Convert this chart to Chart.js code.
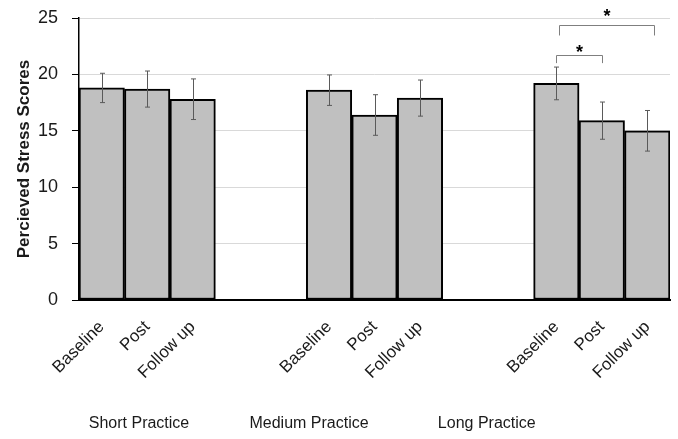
<!DOCTYPE html>
<html>
<head>
<meta charset="utf-8">
<script src="https://cdn.jsdelivr.net/npm/chart.js@4.4.1/dist/chart.umd.min.js"></script>
<style>
  html, body { margin: 0; padding: 0; background: #fff; }
  #wrap { width: 678px; height: 439px; }
</style>
</head>
<body>
<div id="wrap"><canvas id="chart" width="678" height="439"></canvas></div>
<script>
const timepoints = ['Baseline', 'Post', 'Follow up'];
const groups = ['Short Practice', 'Medium Practice', 'Long Practice'];
const shortMeans = [18.8, 18.7, 17.8];
const mediumMeans = [18.6, 16.4, 17.9];
const longMeans = [19.2, 15.9, 15.0];
const shortErr = [1.3, 1.6, 1.8];
const mediumErr = [1.35, 1.8, 1.6];
const longErr = [1.45, 1.65, 1.8];
const yTicks = [0, 5, 10, 15, 20, 25];

// significance brackets within the Long Practice group (timepoint index from/to)
const brackets = [
    { from: 0, to: 1, level: 21.7, drop: 0.7, starGap: 5 },
    { from: 0.06, to: 2.15, level: 24.35, drop: 0.9, starGap: 11 }
];
// where the group captions sit along the category axis
const groupLabelAt = [0.82, 4.56, 8.47];

const GAP = 2; // empty slots between groups
const allMeans = [shortMeans, mediumMeans, longMeans];
const allErr = [shortErr, mediumErr, longErr];
const labels = [];
const values = [];
const errors = [];
allMeans.forEach((means, g) => {
    if (g > 0) {
        for (let k = 0; k < GAP; k++) { labels.push(''); values.push(null); errors.push(null); }
    }
    means.forEach((m, i) => {
        labels.push(timepoints[i]);
        values.push(m);
        errors.push(allErr[g][i]);
    });
});
const longStart = 2 * (timepoints.length + GAP);

const textColor = '#1a1a1a';
const font = "'Liberation Sans', Arial, sans-serif";

const errorBars = {
    id: 'errorBars',
    afterDatasetsDraw(chart) {
        const ctx = chart.ctx;
        const y = chart.scales.y;
        const meta = chart.getDatasetMeta(0);
        ctx.save();
        ctx.strokeStyle = '#5a5a5a';
        ctx.lineWidth = 1;
        meta.data.forEach((bar, i) => {
            if (values[i] == null) return;
            const x = Math.round(bar.x) + 0.5;
            const top = y.getPixelForValue(values[i] + errors[i]);
            const bot = y.getPixelForValue(values[i] - errors[i]);
            ctx.beginPath();
            ctx.moveTo(x, top); ctx.lineTo(x, bot);
            ctx.moveTo(x - 2.5, top); ctx.lineTo(x + 2.5, top);
            ctx.moveTo(x - 2.5, bot); ctx.lineTo(x + 2.5, bot);
            ctx.stroke();
        });
        ctx.restore();
    }
};

const annotations = {
    id: 'annotations',
    afterDraw(chart) {
        const ctx = chart.ctx;
        const xs = chart.scales.x;
        const ys = chart.scales.y;
        ctx.save();
        // brackets
        brackets.forEach(b => {
            const x1 = Math.round(xs.getPixelForValue(longStart + b.from)) + 0.5;
            const x2 = Math.round(xs.getPixelForValue(longStart + b.to)) + 0.5;
            const yt = Math.round(ys.getPixelForValue(b.level)) + 0.5;
            const yb = ys.getPixelForValue(b.level - b.drop);
            ctx.strokeStyle = '#7f7f7f';
            ctx.lineWidth = 1;
            ctx.beginPath();
            ctx.moveTo(x1, yb); ctx.lineTo(x1, yt); ctx.lineTo(x2, yt); ctx.lineTo(x2, yb);
            ctx.stroke();
            ctx.fillStyle = '#000';
            ctx.font = 'bold 18px ' + font;
            ctx.textAlign = 'center';
            ctx.textBaseline = 'alphabetic';
            ctx.fillText('*', (x1 + x2) / 2, yt + 7 - b.starGap);
        });
        // group captions
        ctx.fillStyle = textColor;
        ctx.font = '16px ' + font;
        ctx.textAlign = 'center';
        ctx.textBaseline = 'middle';
        groups.forEach((g, i) => {
            ctx.fillText(g, xs.getPixelForValue(groupLabelAt[i]), 424);
        });
        ctx.restore();
    }
};

new Chart(document.getElementById('chart'), {
    type: 'bar',
    data: {
        labels: labels,
        datasets: [{
            data: values,
            backgroundColor: '#c0c0c0',
            borderColor: '#000',
            borderWidth: 2,
            borderSkipped: false,
            barPercentage: 1,
            categoryPercentage: 1
        }]
    },
    options: {
        responsive: false,
        animation: false,
        layout: { padding: { top: 18, right: 8, left: 0, bottom: 0 } },
        plugins: { legend: { display: false }, tooltip: { enabled: false } },
        scales: {
            x: {
                grid: { display: false },
                border: { color: '#000', width: 2 },
                ticks: {
                    color: textColor,
                    font: { family: font, size: 17 },
                    autoSkip: false,
                    maxRotation: 45,
                    minRotation: 45,
                    padding: 9
                },
                afterFit(scale) { scale.height = 139; }
            },
            y: {
                min: 0,
                max: 25,
                afterBuildTicks(scale) { scale.ticks = yTicks.map(v => ({ value: v })); },
                grid: { color: '#d9d9d9', lineWidth: 1, tickColor: '#000', tickLength: 7 },
                border: { color: '#000', width: 1.5 },
                ticks: {
                    color: textColor,
                    font: { family: font, size: 18, lineHeight: 0.3 },
                    padding: 14
                },
                title: {
                    display: true,
                    text: 'Percieved Stress Scores',
                    color: textColor,
                    font: { family: font, size: 17, weight: 'bold' },
                    padding: { top: 14, bottom: 0 }
                },
                afterFit(scale) { scale.width = 79; }
            }
        }
    },
    plugins: [errorBars, annotations]
});
</script>
</body>
</html>
